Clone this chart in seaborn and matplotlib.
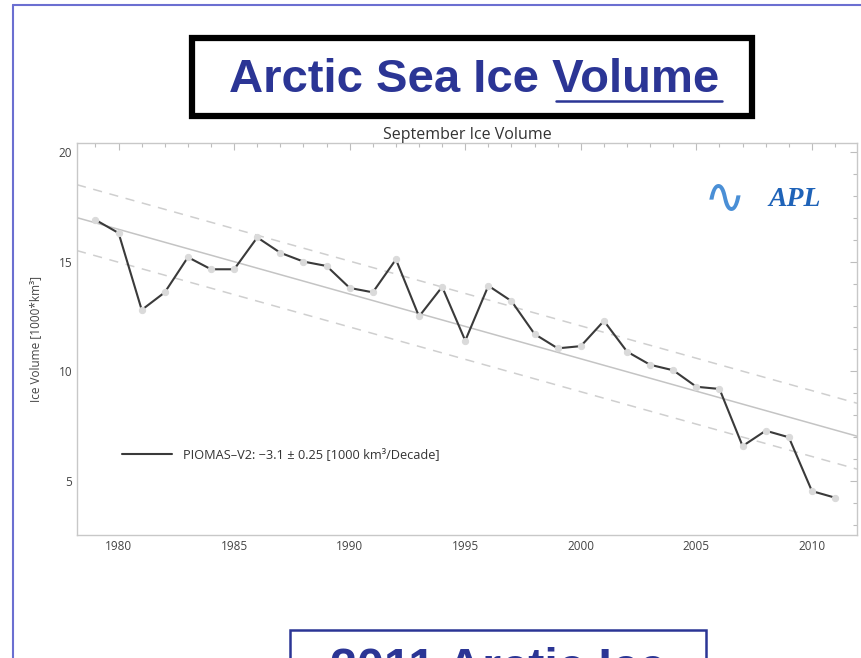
import matplotlib
matplotlib.use("Agg")
import matplotlib.pyplot as plt
import seaborn as sns
import pandas as pd
from matplotlib.lines import Line2D
from matplotlib.patches import Rectangle
from matplotlib.ticker import MultipleLocator

# September ice volume, 1000 km^3
years = list(range(1979, 2012))
volume = [16.9, 16.3, 12.8, 13.6, 15.2, 14.65, 14.65, 16.1, 15.4, 15.0, 14.8,
          13.8, 13.6, 15.1, 12.5, 13.85, 11.4, 13.9, 13.2, 11.7, 11.05, 11.15,
          12.3, 10.9, 10.3, 10.05, 9.3, 9.2, 6.6, 7.3, 7.0, 4.55, 4.25]

# trend line and its +/- band, end values
trend_years = [1978.2, 2011.95]
trend_vals = [17.0, 7.05]
band = 1.5

xticks = [1980, 1985, 1990, 1995, 2000, 2005, 2010]
yticks = [5, 10, 15, 20]

title = "Arctic Sea Ice Volume"
subtitle = "September Ice Volume"
ylabel = "Ice Volume [1000*km³]"
legend_label = "PIOMAS\u2013V2: \u22123.1 \u00b1 0.25 [1000 km³/Decade]"
bottom_text = "2011 Arctic Ice"

sns.set_theme(style="white")
plt.rcParams['font.family'] = ['Open Sans', 'DejaVu Sans']

W, H = 862, 658
fig = plt.figure(figsize=(W / 100, H / 100), dpi=100)
fig.patch.set_facecolor("white")


def fx(px):
    return px / W


def fy(py):
    return 1 - py / H


blue = "#2b3595"

# slide frame (blue border on left and top)
fig.add_artist(Line2D([fx(13), fx(13)], [fy(5), fy(658)], color="#6b6fd1", lw=1.5))
fig.add_artist(Line2D([fx(13), fx(862)], [fy(5), fy(5)], color="#6b6fd1", lw=1.5))

# title box
fig.add_artist(Rectangle((fx(192), fy(116)), fx(752) - fx(192), fy(38) - fy(116),
                         fill=False, edgecolor="black", lw=4.5))
fig.text(fx(474), fy(80), title, ha="center", va="center", fontsize=34,
         fontweight="bold", color=blue, family=["Liberation Sans", "DejaVu Sans"])
fig.add_artist(Line2D([fx(556), fx(722)], [fy(101), fy(101)], color=blue, lw=1.8))

# bottom box, cut off by the slide edge
fig.add_artist(Rectangle((fx(290), fy(700)), fx(706) - fx(290), fy(630) - fy(700),
                         fill=False, edgecolor=blue, lw=1.8))
fig.text(fx(330), fy(647), bottom_text, ha="left", va="top", fontsize=35,
         fontweight="bold", color=blue, family=["Liberation Sans", "DejaVu Sans"])

ax = fig.add_axes([fx(77), fy(535), fx(857) - fx(77), fy(143) - fy(535)])

df = pd.DataFrame({"year": years, "volume": volume})
tr = pd.DataFrame({"year": trend_years, "mid": trend_vals})
tr["hi"] = tr["mid"] + band
tr["lo"] = tr["mid"] - band

sns.lineplot(data=tr, x="year", y="mid", ax=ax, color="#c4c4c4", lw=1.1)
sns.lineplot(data=tr, x="year", y="hi", ax=ax, color="#cfcfcf", lw=1.1,
             linestyle=(0, (6, 5)))
sns.lineplot(data=tr, x="year", y="lo", ax=ax, color="#cfcfcf", lw=1.1,
             linestyle=(0, (6, 5)))
sns.lineplot(data=df, x="year", y="volume", ax=ax, color="#3a3a3a", lw=1.5,
             marker="o", markersize=4.5, markerfacecolor="#dadada",
             markeredgecolor="#dadada", label=legend_label)

ax.set_xlim(1978.2, 2011.95)
ax.set_ylim(2.55, 20.4)
ax.set_xticks(xticks)
ax.set_yticks(yticks)
ax.xaxis.set_minor_locator(MultipleLocator(1))
ax.yaxis.set_minor_locator(MultipleLocator(1))
ax.tick_params(which="both", direction="in", top=True, right=True, color="#bdbdbd",
               labelsize=8.5, labelcolor="#444444", width=0.8)
ax.tick_params(which="major", length=5)
ax.tick_params(which="minor", length=3)
ax.set_xlabel("")
ax.set_ylabel(ylabel, fontsize=8.5, color="#444444", labelpad=12)
ax.set_title(subtitle, fontsize=11.5, color="#333333", pad=3)
for s in ax.spines.values():
    s.set_color("#c8c8c8")
    s.set_linewidth(1.0)

leg = ax.legend(loc="center left", bbox_to_anchor=(0.058, 0.204), frameon=False,
                fontsize=9.2, handlelength=3.9, handletextpad=0.85,
                borderpad=0, borderaxespad=0)
for t in leg.get_texts():
    t.set_color("#333333")
for h in leg.get_lines():
    h.set_marker("")

# lab mark in the corner
ax.text(0.92, 0.855, "APL", transform=ax.transAxes, fontsize=20, fontstyle="italic",
        fontweight="bold", color="#1f63b8", ha="center", va="center",
        family=["Liberation Serif", "DejaVu Serif"])
ax.text(0.83, 0.86, "\u223f", transform=ax.transAxes, fontsize=36,
        color="#4a8fd6", ha="center", va="center", family=["DejaVu Sans"])

fig.savefig("out.png", dpi=100)
